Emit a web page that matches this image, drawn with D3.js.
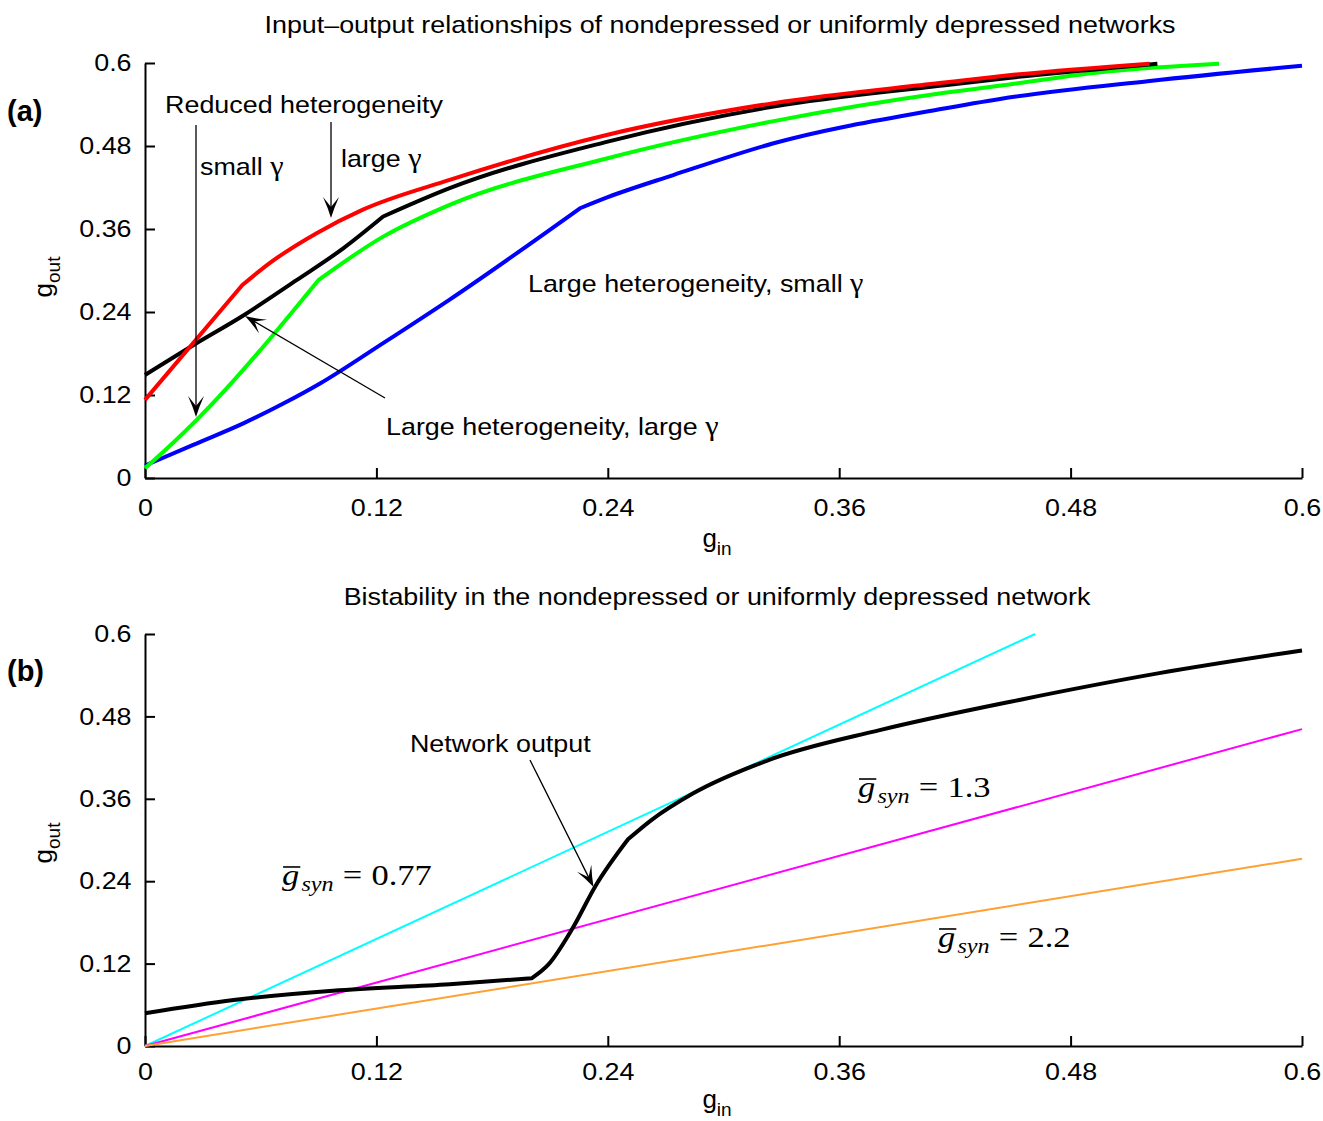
<!DOCTYPE html>
<html>
<head>
<meta charset="utf-8">
<script src="https://cdn.jsdelivr.net/npm/d3@7"></script>
<style>
  body { margin: 0; background: #fff; }
  svg { display: block; }
</style>
</head>
<body>
<div id="chart"></div>
<script>
// ---- data ----
const xTicks = [0, 0.12, 0.24, 0.36, 0.48, 0.6];
const yTicks = [0, 0.12, 0.24, 0.36, 0.48, 0.6];

// panel (a): each curve is a list of pieces [g_in, g_out], split where the curve has a corner
const redA = [
  [[0,0.113],[0.0505,0.279]],
  [[0.0505,0.279],[0.0648,0.311],[0.089,0.354],[0.113,0.388],[0.158,0.431],[0.2394,0.496],
   [0.326,0.542],[0.412,0.571],[0.4434,0.581],[0.521,0.599]]
];
const blackA = [
  [[0,0.149],[0.025,0.192],[0.051,0.235],[0.0786,0.286],[0.1028,0.332],[0.1235,0.378]],
  [[0.1235,0.378],[0.158,0.419],[0.2394,0.486],[0.326,0.537],[0.412,0.567],[0.443,0.577],[0.525,0.599]]
];
const greenA = [
  [[0,0.014],[0.015,0.052],[0.0268,0.084],[0.0899,0.286]],
  [[0.0899,0.286],[0.1235,0.349],[0.158,0.395],[0.2394,0.462],[0.326,0.516],[0.412,0.556],
   [0.443,0.567],[0.5,0.588],[0.557,0.599]]
];
const blueA = [
  [[0,0.018],[0.025,0.048],[0.051,0.079],[0.072,0.108],[0.091,0.137],[0.1235,0.195],[0.158,0.258],[0.2256,0.390]],
  [[0.2256,0.390],[0.24,0.406],[0.274,0.438],[0.326,0.484],[0.412,0.533],[0.4434,0.548],[0.521,0.574],[0.6,0.596]]
];

// panel (b)
const blackB = [
  [[0,0.0476],[0.046,0.067],[0.0975,0.0805],[0.158,0.090],[0.2005,0.0986]],
  [[0.2005,0.0986],[0.209,0.118],[0.2222,0.1737],[0.2334,0.232],[0.2505,0.301]],
  [[0.2505,0.301],[0.2626,0.329],[0.2843,0.368],[0.323,0.416],[0.381,0.460],[0.4534,0.504],[0.526,0.543],[0.6,0.576]]
];
const cyanB = [[[0,0],[0.4616,0.6]]];
const magentaB = [[[0,0],[0.6,0.4615]]];
const orangeB = [[[0,0],[0.6,0.2727]]];

// annotations, in data coordinates
const textsA = [
  {t: "Reduced heterogeneity", x: 0.0104, y: 0.528},
  {t: "small ", g: true, x: 0.0285, y: 0.438},
  {t: "large ", g: true, x: 0.1016, y: 0.4496},
  {t: "Large heterogeneity, small ", g: true, x: 0.1986, y: 0.269},
  {t: "Large heterogeneity, large ", g: true, x: 0.125, y: 0.0622}
];
const arrowsA = [
  {from: [0.02645, 0.5104], to: [0.02645, 0.0882]},
  {from: [0.09646, 0.5147], to: [0.09646, 0.3759]},
  {from: [0.12446, 0.1157], to: [0.05186, 0.2342]}
];
const textsB = [{t: "Network output", x: 0.1374, y: 0.4281}];
const arrowsB = [{from: [0.19965, 0.4165], to: [0.2326, 0.2315]}];
const mathB = [
  {v: "0.77", x: 0.071, y: 0.2345},
  {v: "1.3", x: 0.3697, y: 0.3626},
  {v: "2.2", x: 0.4112, y: 0.1442}
];

const W = 1323, H = 1121;
const SX = 1.12; // the figure's text runs a bit wider than Arial
const SANS = "Liberation Sans, Arial, sans-serif";
const SERIF = "Liberation Serif, Times New Roman, serif";

const svg = d3.select("#chart").append("svg").attr("width", W).attr("height", H);

const x = d3.scaleLinear().domain([0, 0.6]).range([145, 1302]);
const yA = d3.scaleLinear().domain([0, 0.6]).range([478, 63]);
const yB = d3.scaleLinear().domain([0, 0.6]).range([1046, 634]);

function stretchedText(px, py, str, size, anchor, gamma) {
  const t = svg.append("text")
    .attr("transform", `translate(${px},${py}) scale(${SX},1)`)
    .attr("text-anchor", anchor || "start")
    .style("font-family", SANS).style("font-size", size + "px")
    .text(str);
  if (gamma) t.append("tspan").style("font-family", SERIF).style("font-size", (size + 3) + "px").text("\u03b3");
  return t;
}

function drawAxes(y, labelPad) {
  const gx = svg.append("g").attr("transform", `translate(0,${y(0)})`)
    .call(d3.axisBottom(x).tickValues(xTicks).tickFormat(d => String(d))
      .tickSizeInner(-10).tickSizeOuter(0).tickPadding(labelPad));
  const gy = svg.append("g").attr("transform", `translate(${x(0)},0)`)
    .call(d3.axisLeft(y).tickValues(yTicks).tickFormat(d => String(d))
      .tickSizeInner(-10).tickSizeOuter(0).tickPadding(12));
  [gx, gy].forEach(g => {
    g.select(".domain").attr("stroke", "#000").attr("stroke-width", 2);
    g.selectAll(".tick line").attr("stroke", "#000").attr("stroke-width", 2);
    g.selectAll(".tick text").style("font-size", "24px").style("font-family", SANS)
      .attr("fill", "#000").attr("transform", `scale(${SX},1)`);
  });
}

function subLabel(px, py, main, sub, rotate) {
  const t = svg.append("text")
    .attr("transform", `translate(${px},${py})` + (rotate ? " rotate(-90)" : ""))
    .attr("text-anchor", "middle").style("font-family", SANS).style("font-size", "26px");
  t.append("tspan").text(main);
  t.append("tspan").style("font-size", "19px").attr("dy", 8).text(sub);
}

const line = (y) => d3.line().x(d => x(d[0])).y(d => y(d[1])).curve(d3.curveMonotoneX);

// one continuous path; pieces are joined so the corners stay sharp
function drawSeries(y, pieces, color, width) {
  const gen = line(y);
  const d = pieces.map((p, i) => i === 0 ? gen(p) : gen(p).replace(/^M[^A-Za-z]*/, "")).join("");
  svg.append("path").attr("d", d).attr("fill", "none")
    .attr("stroke", color).attr("stroke-width", width)
    .attr("stroke-linejoin", "round");
}

function drawArrow(y, a) {
  const x1 = x(a.from[0]), y1 = y(a.from[1]);
  const x2 = x(a.to[0]), y2 = y(a.to[1]);
  const ang = Math.atan2(y2 - y1, x2 - x1) * 180 / Math.PI;
  const len = Math.hypot(x2 - x1, y2 - y1);
  const g = svg.append("g").attr("transform", `translate(${x1},${y1}) rotate(${ang})`);
  g.append("line").attr("x1", 0).attr("y1", 0).attr("x2", len - 10).attr("y2", 0)
    .attr("stroke", "#000").attr("stroke-width", 1.3);
  g.append("path")
    .attr("d", `M${len},0 Q${len - 10},-3 ${len - 21},-8 L${len - 11},0 L${len - 21},8 Q${len - 10},3 ${len},0 Z`)
    .attr("fill", "#000");
}

// ---------- panel (a) ----------
drawAxes(yA, 21);
stretchedText(720, 33, "Input\u2013output relationships of nondepressed or uniformly depressed networks", 24, "middle");
svg.append("text").attr("x", 7).attr("y", 121).style("font-family", SANS).style("font-size", "29px")
  .style("font-weight", "bold").text("(a)");
subLabel(717, 547, "g", "in", false);
subLabel(52, 277, "g", "out", true);

drawSeries(yA, blueA, "#0000ff", 4);
drawSeries(yA, greenA, "#00ff00", 4);
drawSeries(yA, blackA, "#000000", 4);
drawSeries(yA, redA, "#ff0000", 4);

textsA.forEach(d => stretchedText(x(d.x), yA(d.y), d.t, 24, "start", d.g));
arrowsA.forEach(a => drawArrow(yA, a));

// ---------- panel (b) ----------
drawAxes(yB, 17);
stretchedText(717, 605, "Bistability in the nondepressed or uniformly depressed network", 24, "middle");
svg.append("text").attr("x", 7).attr("y", 681).style("font-family", SANS).style("font-size", "29px")
  .style("font-weight", "bold").text("(b)");
subLabel(717, 1108, "g", "in", false);
subLabel(52, 843, "g", "out", true);

drawSeries(yB, cyanB, "#00ffff", 2);
drawSeries(yB, magentaB, "#ff00ff", 2);
drawSeries(yB, orangeB, "#ffa033", 2);
drawSeries(yB, blackB, "#000000", 4);

textsB.forEach(d => stretchedText(x(d.x), yB(d.y), d.t, 24));
arrowsB.forEach(a => drawArrow(yB, a));

mathB.forEach(d => {
  const g = svg.append("g").attr("transform", `translate(${x(d.x)},${yB(d.y)}) scale(1.15,1)`);
  const t = g.append("text").style("font-family", SERIF).style("font-size", "30px");
  t.append("tspan").style("font-style", "italic").text("g");
  t.append("tspan").style("font-style", "italic").style("font-size", "21px")
    .attr("dy", 6).attr("dx", 2).text("syn");
  t.append("tspan").attr("dy", -6).attr("dx", 8).text("=");
  t.append("tspan").attr("dx", 8).text(d.v);
  const ext = t.node().getExtentOfChar(0);
  g.append("line").attr("x1", ext.x + 1).attr("x2", ext.x + ext.width + 1)
    .attr("y1", -18).attr("y2", -18).attr("stroke", "#000").attr("stroke-width", 1.6);
});
</script>
</body>
</html>
